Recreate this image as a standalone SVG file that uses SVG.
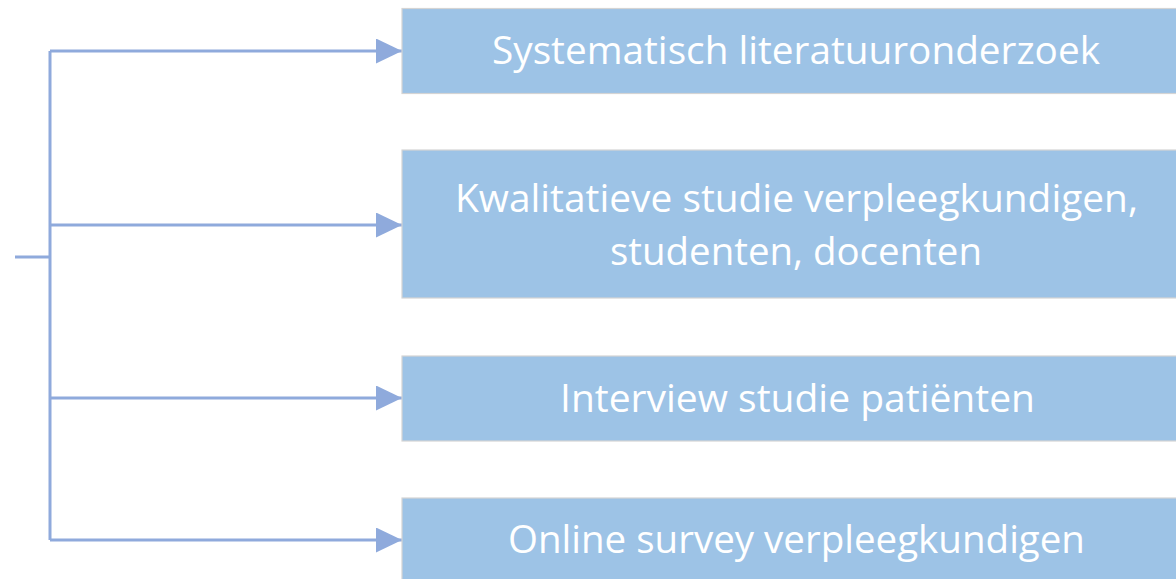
<svg xmlns="http://www.w3.org/2000/svg" width="1176" height="579" viewBox="0 0 1176 579">
<style>
.box{fill:#9dc3e6;stroke:#d4d4d4;stroke-width:1.2}
.lbl{font-family:"Open Sans","Liberation Sans",sans-serif;font-size:39px;fill:#ffffff;text-anchor:middle}
.ln{fill:none;stroke:#8faadc;stroke-width:3;stroke-linejoin:miter}
</style>
<defs>
<marker id="ah" viewBox="0 0 26 25" refX="26" refY="12.5" markerWidth="26" markerHeight="25" markerUnits="userSpaceOnUse" orient="auto">
<path d="M0,0 L26,12.5 L0,25 Z" fill="#8faadc"/>
</marker>
</defs>
<rect width="1176" height="579" fill="#ffffff"/>
<g id="connectors">
<path class="ln" d="M15,257 H50"/>
<path class="ln" d="M50,51 V540"/>
<path class="ln" d="M50,51 H402" marker-end="url(#ah)"/>
<path class="ln" d="M50,225 H402" marker-end="url(#ah)"/>
<path class="ln" d="M50,398 H402" marker-end="url(#ah)"/>
<path class="ln" d="M50,540 H402" marker-end="url(#ah)"/>
</g>
<g id="node1">
<rect class="box" x="402" y="8.5" width="800" height="85"/>
<text class="lbl" x="796" y="64" textLength="608" lengthAdjust="spacingAndGlyphs">Systematisch literatuuronderzoek</text>
</g>
<g id="node2">
<rect class="box" x="402" y="150" width="800" height="148"/>
<text class="lbl" x="796.5" y="212" textLength="683" lengthAdjust="spacingAndGlyphs">Kwalitatieve studie verpleegkundigen,</text>
<text class="lbl" x="796" y="265" textLength="372" lengthAdjust="spacingAndGlyphs">studenten, docenten</text>
</g>
<g id="node3">
<rect class="box" x="402" y="356" width="800" height="85"/>
<text class="lbl" x="797.5" y="411.5" textLength="475" lengthAdjust="spacingAndGlyphs">Interview studie patiënten</text>
</g>
<g id="node4">
<rect class="box" x="402" y="498" width="800" height="100"/>
<text class="lbl" x="796.5" y="553" textLength="577" lengthAdjust="spacingAndGlyphs">Online survey verpleegkundigen</text>
</g>
</svg>
